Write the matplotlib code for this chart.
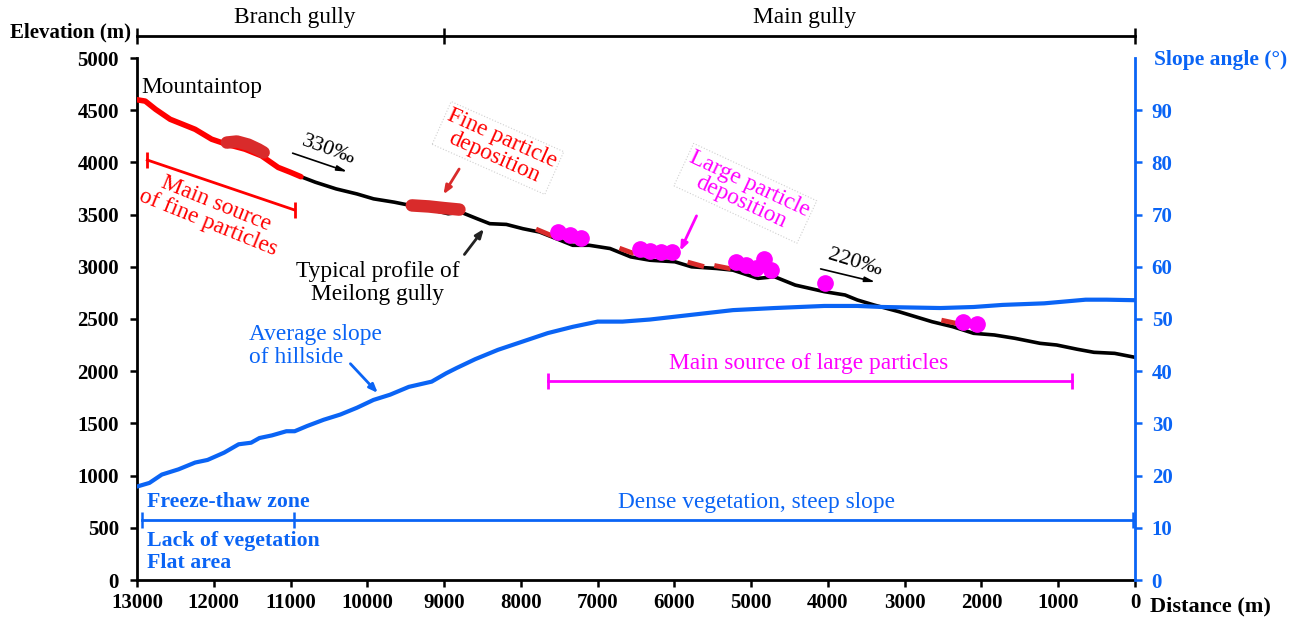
import numpy as np
import matplotlib
matplotlib.use("Agg")
import matplotlib.pyplot as plt

plt.rcParams['font.family'] = ['Liberation Serif', 'DejaVu Serif']

# ---- data (distance in m, elevation in m, slope in deg) ----
red_dist = [13000, 12892, 12757, 12568, 12405, 12243, 12027, 11838, 11595, 11378,
            11162, 11000, 10865]
red_elev = [4600, 4587, 4508, 4413, 4365, 4317, 4222, 4175, 4127, 4063,
            3952, 3905, 3863]

prof_dist = [10865, 10676, 10405, 10135, 9919, 9649, 9432, 9216, 8946, 8784,
             8568, 8405, 8189, 7973, 7757, 7541, 7324, 7108, 6838, 6568,
             6318, 5993, 5777, 5453, 5237, 4912, 4696, 4426, 4047, 3777,
             3616, 3399, 3075, 2644, 2373, 2103, 1833, 1563, 1237, 1021,
             751, 535, 265, 0]
prof_elev = [3863, 3810, 3746, 3698, 3651, 3619, 3587, 3556, 3508, 3524,
             3460, 3413, 3406, 3365, 3333, 3270, 3206, 3206, 3175, 3095,
             3063, 3048, 3000, 2984, 2968, 2889, 2905, 2825, 2762, 2730,
             2682, 2634, 2570, 2474, 2426, 2363, 2347, 2315, 2267, 2251,
             2210, 2181, 2171, 2133]

slope_dist = [13000, 12838, 12676, 12459, 12243, 12081, 11865, 11676, 11514, 11405,
              11243, 11054, 10946, 10784, 10568, 10351, 10135, 9919, 9703, 9459,
              9162, 8973, 8838, 8595, 8297, 7973, 7649, 7324, 7000, 6676,
              6318, 5777, 5237, 4696, 4047, 3615, 3291, 2534, 2102, 1724,
              1183, 643, 373, 0]
slope_deg = [17.9, 18.6, 20.2, 21.2, 22.5, 23.0, 24.4, 26.0, 26.3, 27.2,
             27.7, 28.5, 28.5, 29.5, 30.7, 31.7, 33.0, 34.5, 35.5, 37.0,
             38.0, 39.6, 40.6, 42.3, 44.1, 45.7, 47.3, 48.5, 49.5, 49.5,
             49.9, 50.8, 51.7, 52.1, 52.5, 52.5, 52.3, 52.1, 52.3, 52.7,
             53.0, 53.7, 53.7, 53.6]

# large particle deposits (boulders)
boulder_dist = [7512, 7360, 7217, 6448, 6318, 6174, 6035, 5201, 5067, 4937,
                4829, 4745, 4033, 2240, 2060]
boulder_elev = [3336, 3305, 3279, 3168, 3151, 3139, 3139, 3049, 3017, 2986,
                3072, 2969, 2842, 2474, 2449]

# fine particle deposits (thick red patches)
fine_patches = [
    ([11830, 11700, 11550, 11420, 11350], [4190, 4200, 4170, 4125, 4095]),
    ([9420, 9200, 9000, 8800], [3588, 3578, 3562, 3548]),
]
fine_dashes = [
    ([7773, 7620], [3352, 3305]),
    ([6686, 6556], [3170, 3135]),
    ([5797, 5645], [3039, 3008]),
    ([5449, 5297], [3008, 2986]),
    ([2491, 2332], [2484, 2459]),
]

gully_bounds = [13000, 9000, 0]
veg_bounds = [12930, 10960, 30]
fine_source = ([12866, 10947], [4023, 3544])
large_source = ([7650, 820], [1906, 1906])

red = '#ff0000'
dred = '#d92b2b'
mag = '#ff00ff'
blue = '#0a64f5'
fs = 16.8    # regular annotation text
fsb = 15.7   # bold text

fig = plt.figure(figsize=(13, 6.21), dpi=100)
ax = fig.add_axes([137 / 1300, 41 / 621, 998 / 1300, 522 / 621])
ax2 = ax.twinx()

ax.set_xlim(13000, 0)
ax.set_ylim(0, 5000)
ax2.set_ylim(0, 100)
ax.set_xticks(np.arange(0, 13001, 1000))
ax.set_yticks(np.arange(0, 5001, 500))
ax2.set_yticks(np.arange(0, 91, 10))

for a in (ax, ax2):
    a.spines['top'].set_visible(False)
    a.set_facecolor('none')
ax.spines['right'].set_visible(False)
ax2.spines['left'].set_visible(False)
ax2.spines['bottom'].set_visible(False)
ax.spines['left'].set_linewidth(2)
ax.spines['bottom'].set_linewidth(2)
ax2.spines['right'].set_linewidth(2)
ax2.spines['right'].set_color(blue)
ax.tick_params(axis='both', labelsize=15, width=1.8, length=5, direction='out')
ax.tick_params(axis='x', pad=4)
ax.tick_params(axis='y', pad=8)
ax2.tick_params(axis='y', colors=blue, labelsize=15, width=1.8, length=5, pad=7)
for lab in ax.get_xticklabels() + ax.get_yticklabels() + ax2.get_yticklabels():
    lab.set_fontweight('bold')

# slope curve
ax2.plot(slope_dist, slope_deg, color=blue, lw=3, solid_capstyle='round')

# profile
ax.plot(prof_dist, prof_elev, color='black', lw=2.6, zorder=3)
ax.plot(red_dist, red_elev, color=red, lw=4, zorder=4, solid_capstyle='round')
for d, e in fine_patches:
    ax.plot(d, e, color=dred, lw=9, zorder=4, solid_capstyle='round')
for d, e in fine_dashes:
    ax.plot(d, e, color=dred, lw=3.5, zorder=4)
ax.plot(boulder_dist, boulder_elev, 'o', color=mag, ms=11, zorder=5)

# top gully bar
ax.plot([gully_bounds[0], gully_bounds[-1]], [5211, 5211], color='black', lw=2,
        clip_on=False)
ax.plot(gully_bounds, [5211] * 3, '|', color='black', ms=12, mew=1.8, clip_on=False)
ax.text(10942, 5385, 'Branch gully', ha='center', va='center', fontsize=fs)
ax.text(4300, 5385, 'Main gully', ha='center', va='center', fontsize=fs)

# vegetation bar
ax.plot([veg_bounds[0], veg_bounds[-1]], [575, 575], color=blue, lw=2)
ax.plot(veg_bounds, [575] * 3, '|', color=blue, ms=12, mew=1.8)
ax.text(12870, 750, 'Freeze-thaw zone', color=blue, fontsize=fsb, fontweight='bold',
        ha='left', va='center')
ax.text(12870, 374, 'Lack of vegetation', color=blue, fontsize=fsb, fontweight='bold',
        ha='left', va='center')
ax.text(12870, 163, 'Flat area', color=blue, fontsize=fsb, fontweight='bold',
        ha='left', va='center')
ax.text(4924, 747, 'Dense vegetation, steep slope', color=blue, fontsize=fs,
        ha='center', va='center')

# source bars
ax.plot(fine_source[0], fine_source[1], color=red, lw=2)
ax.plot(fine_source[0], fine_source[1], '|', color=red, ms=12, mew=2)
ax.text(12028, 3515, 'Main source\nof fine particles', color=red, fontsize=fs,
        rotation=-22, ha='center', va='center', linespacing=1.0,
        rotation_mode='anchor')
ax.plot(large_source[0], large_source[1], color=mag, lw=2)
ax.plot(large_source[0], large_source[1], '|', color=mag, ms=12, mew=2)
ax.text(4252, 2078, 'Main source of large particles', color=mag, fontsize=fs,
        ha='center', va='center')

box = dict(facecolor='none', edgecolor='#d0d0d0', linestyle=':', lw=0.8, pad=2)

ax.text(12948, 4722, 'Mountaintop', fontsize=fs, ha='left', va='center')

# gradient marks
ax.annotate('', xy=(10226, 3902), xytext=(11007, 4097),
            arrowprops=dict(arrowstyle='-|>,head_length=0.6,head_width=0.15',
                            color='black', lw=1.2))
ax.text(10512, 4115, '330‰', fontsize=16, rotation=-20, ha='center', va='center',
        rotation_mode='anchor')
ax.annotate('', xy=(3348, 2848), xytext=(4130, 2986),
            arrowprops=dict(arrowstyle='-|>,head_length=0.6,head_width=0.15',
                            color='black', lw=1.2))
ax.text(3642, 3040, '220‰', fontsize=16, rotation=-17, ha='center', va='center',
        rotation_mode='anchor')

# annotations with arrows
ax.text(8298, 4138, 'Fine particle\ndeposition', color=red, fontsize=fs, rotation=-24,
        ha='center', va='center', linespacing=0.95, rotation_mode='anchor', bbox=box)
ax.annotate('', xy=(9027, 3671), xytext=(8785, 3959),
            arrowprops=dict(arrowstyle='-|>,head_length=0.5,head_width=0.2',
                            color=dred, lw=2))
ax.text(5076, 3704, 'Large particle\ndeposition', color=mag, fontsize=fs, rotation=-25,
        ha='center', va='center', linespacing=0.95, rotation_mode='anchor', bbox=box)
ax.annotate('', xy=(5940, 3129), xytext=(5696, 3512),
            arrowprops=dict(arrowstyle='-|>,head_length=0.5,head_width=0.2',
                            color=mag, lw=2))
ax.text(9866, 2842, 'Typical profile of\nMeilong gully', fontsize=fs, ha='center',
        va='center', linespacing=1.1)
ax.annotate('', xy=(8460, 3384), xytext=(8757, 3097),
            arrowprops=dict(arrowstyle='-|>,head_length=0.5,head_width=0.2',
                            color='#222222', lw=2))
ax.text(11541, 2241, 'Average slope\nof hillside', color=blue, fontsize=fs, ha='left',
        va='center', linespacing=1.1)
ax.annotate('', xy=(9839, 1772), xytext=(10245, 2091),
            arrowprops=dict(arrowstyle='-|>,head_length=0.5,head_width=0.2',
                            color=blue, lw=2))

# axis titles
fig.text(70 / 1300, 1 - 32 / 621, 'Elevation (m)', fontsize=15, fontweight='bold',
         ha='center', va='center')
fig.text(1154 / 1300, 1 - 60 / 621, 'Slope angle (°)', fontsize=15.5, fontweight='bold',
         color=blue, ha='left', va='center')
fig.text(1150 / 1300, 1 - 606 / 621, 'Distance (m)', fontsize=16, fontweight='bold',
         ha='left', va='center')

fig.savefig('out.png', dpi=100)
